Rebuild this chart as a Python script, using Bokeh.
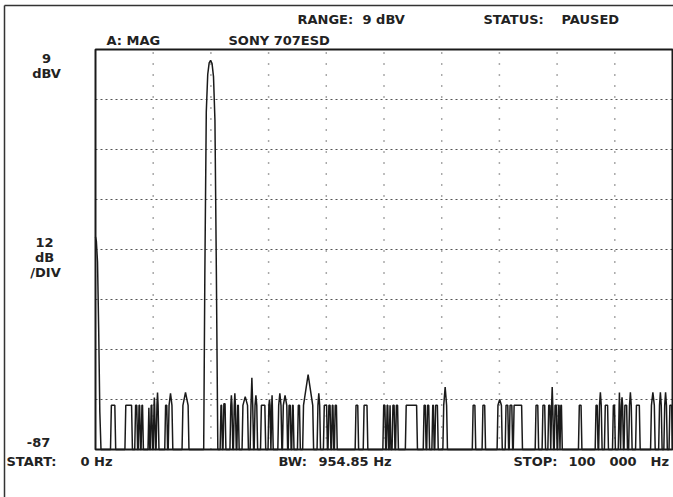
from bokeh.plotting import figure
from bokeh.models import Range1d
from bokeh.core.properties import value
from bokeh.embed import file_html
from bokeh.resources import INLINE

# ---- data ----
# roll-off at DC (kHz, dBV)
dc_khz = [0.0, 0.15, 0.35, 0.55, 0.75, 0.95]
dc_db = [-36.0, -37.0, -42.0, -58.0, -78.0, -87.0]

# the 20 kHz tone (kHz, dBV)
tone_khz = [18.75, 18.95, 19.2, 19.45, 19.7, 19.95, 20.2, 20.45, 20.7, 20.95, 21.2]
tone_db = [-87.0, -45.0, -6.0, 3.0, 5.8, 6.4, 5.6, 2.5, -8.0, -45.0, -87.0]

# noise bumps above the -87 dBV floor: start kHz, end kHz, top dBV
bump_lo = [2.6, 5.1, 6.8, 7.4, 7.9, 9.1, 9.5, 10.0, 10.5, 12.0, 12.6, 15.0,
           21.6, 22.1, 23.3, 23.9, 24.5, 25.4, 26.8, 27.5, 28.6, 29.9, 30.4,
           31.6, 32.4, 33.4, 34.0, 35.0, 35.9, 38.4, 39.5, 40.3, 40.9, 41.4,
           45.0, 46.4, 49.8, 50.4, 50.9, 51.4, 52.0, 53.7, 56.8, 57.4, 58.3,
           58.8, 60.2, 65.3, 67.0, 69.6, 71.0, 71.7, 72.4, 76.2, 77.4, 78.4,
           78.9, 79.5, 80.1, 80.5, 83.7, 86.6, 87.2, 88.2, 89.6, 90.6, 91.0,
           91.6, 92.4, 93.6, 96.2, 97.6, 98.5, 99.4]
bump_hi = [3.5, 6.4, 7.3, 7.8, 8.3, 9.4, 9.9, 10.4, 11.0, 12.5, 13.4, 16.2,
           22.0, 22.6, 23.8, 24.4, 24.9, 26.5, 27.4, 28.1, 29.5, 30.4, 30.8,
           32.3, 33.3, 33.9, 34.4, 35.5, 37.8, 39.0, 40.2, 40.8, 41.3, 41.9,
           45.6, 47.2, 50.3, 50.8, 51.2, 51.9, 52.5, 55.8, 57.3, 57.9, 58.7,
           59.4, 61.0, 65.9, 67.6, 70.5, 71.6, 72.3, 74.0, 76.8, 78.0, 78.9,
           79.4, 80.0, 80.5, 80.9, 84.3, 87.1, 87.8, 88.9, 90.1, 91.0, 91.5,
           92.2, 93.0, 94.4, 97.0, 98.2, 99.1, 100.0]
bump_top = [-76.4, -76.4, -76.4, -76.4, -76.4, -77.0, -76.4, -74.5, -73.3, -76.4, -73.5, -73.3,
            -76.4, -76.0, -74.0, -73.5, -76.4, -74.3, -69.8, -74.0, -76.4, -75.0, -74.0,
            -73.5, -74.0, -76.4, -76.4, -76.4, -69.0, -73.5, -76.4, -76.4, -76.4, -76.4,
            -76.4, -76.4, -76.4, -76.4, -76.4, -76.4, -76.4, -76.4, -76.4, -76.4, -76.4,
            -76.4, -72.0, -76.4, -76.4, -75.0, -76.4, -76.4, -76.4, -76.4, -76.4, -76.4,
            -72.0, -76.4, -76.4, -76.4, -76.4, -76.4, -73.3, -76.4, -76.4, -73.3, -74.5,
            -76.4, -73.3, -76.4, -73.3, -73.3, -73.3, -76.4]

FLOOR = -87.0
SHOULDER = -76.4
X_START, X_STOP = 0.0, 100.0
Y_BOTTOM, Y_TOP = -87.0, 9.0
x_grid = [10, 20, 30, 40, 50, 60, 70, 80, 90]
y_grid = [-75, -63, -51, -39, -27, -15, -3]

header_texts = ["RANGE:", "9 dBV", "STATUS:", "PAUSED", "A: MAG", "SONY 707ESD"]
left_texts = ["9", "dBV", "12", "dB", "/DIV", "-87"]
footer_texts = ["START:", "0 Hz", "BW:", "954.85 Hz", "STOP:", "100", "000", "Hz"]

# ---- build the trace polyline from the data ----
xs = list(dc_khz)
ys = list(dc_db)
tone_done = False
EDGE = 0.15
for lo, hi, top in zip(bump_lo, bump_hi, bump_top):
    if not tone_done and lo > tone_khz[0]:
        xs += tone_khz
        ys += tone_db
        tone_done = True
    if top > SHOULDER + 0.5:
        xs += [lo, lo + EDGE, (lo + hi) / 2, hi - EDGE, hi]
        ys += [FLOOR, SHOULDER, top, SHOULDER, FLOOR]
    else:
        xs += [lo, lo + EDGE, hi - EDGE, hi]
        ys += [FLOOR, top, top, FLOOR]

# ---- page geometry: the whole canvas is the data frame ----
W, H = 673, 497
BOX_L, BOX_R, BOX_T, BOX_B = 95, 672, 49, 449   # screen px of the instrument box


def fx(px):
    return X_START + (px - BOX_L) * (X_STOP - X_START) / (BOX_R - BOX_L)


def fy(py):
    return Y_TOP - (py - BOX_T) * (Y_TOP - Y_BOTTOM) / (BOX_B - BOX_T)


p = figure(width=W, height=H, output_backend="svg", toolbar_location=None,
           x_range=Range1d(fx(0), fx(W)), y_range=Range1d(fy(H), fy(0)),
           min_border=0)
p.xaxis.visible = False
p.yaxis.visible = False
p.grid.visible = False
p.outline_line_color = None
p.background_fill_color = "white"
p.border_fill_color = "white"

# graticule
p.segment(x0=x_grid, y0=[Y_BOTTOM] * len(x_grid), x1=x_grid, y1=[Y_TOP] * len(x_grid),
          line_color="#555555", line_width=1.5, line_dash="1 10")
p.segment(x0=[X_START] * len(y_grid), y0=y_grid, x1=[X_STOP] * len(y_grid), y1=y_grid,
          line_color="#555555", line_width=1, line_dash="2 3")

# trace
p.line(xs, ys, line_color="#1a1a1a", line_width=1.5)

# instrument box
p.quad(left=[X_START], right=[X_STOP], bottom=[Y_BOTTOM], top=[Y_TOP],
       fill_alpha=0, line_color="#1a1a1a", line_width=2)

# page border (left and top)
p.line([fx(4), fx(4)], [fy(H + 5), fy(5)], line_color="#333333", line_width=1.5)
p.line([fx(4), fx(W + 5)], [fy(5), fy(5)], line_color="#333333", line_width=1.5)

FONT = value("DejaVu Sans")


def put(texts, positions, align):
    p.text(x=[fx(a) for a, b in positions], y=[fy(b) for a, b in positions], text=texts,
           text_font=FONT, text_font_size="13px", text_font_style="bold",
           text_color="#222222", text_align=align, text_baseline="middle")


put(header_texts, [(297, 19), (362, 19), (483, 19), (561, 19), (106, 40), (228, 40)], "left")
put(left_texts, [(46, 58), (46, 73), (44, 242), (44, 257), (45, 272), (38, 442)], "center")
put(footer_texts, [(6, 461), (80, 461), (278, 461), (318, 461), (513, 461), (568, 461),
                   (609, 461), (650, 461)], "left")

open("out.html", "w").write(file_html(p, INLINE))
